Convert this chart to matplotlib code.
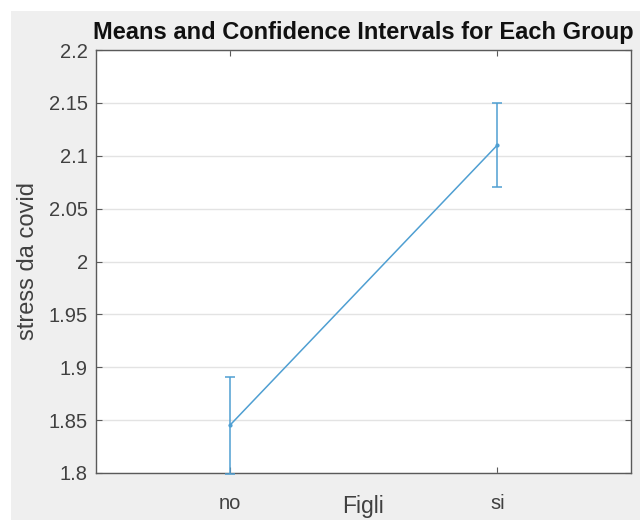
import matplotlib.pyplot as plt
from matplotlib.patches import Rectangle

# group means with lower/upper confidence limits
groups = ["no", "si"]
means = [1.845, 2.11]
ci_low = [1.799, 2.07]
ci_high = [1.891, 2.15]
yticks = [1.8, 1.85, 1.9, 1.95, 2.0, 2.05, 2.1, 2.15, 2.2]
ytick_labels = ["1.8", "1.85", "1.9", "1.95", "2", "2.05", "2.1", "2.15", "2.2"]

plt.rcParams["font.family"] = ["Liberation Sans", "DejaVu Sans"]

LINE_COLOR = "#4f9fd2"
TEXT_COLOR = "#404040"

fig = plt.figure(figsize=(6.4, 5.2), dpi=100, facecolor="white")
# gray window background with a thin white margin on top and left
fig.patches.append(Rectangle((11 / 640, 0), 1, 1 - 11 / 520, transform=fig.transFigure,
                             facecolor="#efefef", edgecolor="none", zorder=-1))

ax = fig.add_axes([96 / 640, 47 / 520, (631 - 96) / 640, (473 - 50) / 520])
ax.set_facecolor("white")

x = list(range(1, len(groups) + 1))
yerr = [[m - lo for m, lo in zip(means, ci_low)],
        [hi - m for m, hi in zip(means, ci_high)]]
ax.errorbar(x, means, yerr=yerr, color=LINE_COLOR, lw=1.1, elinewidth=1.1,
            capsize=3.5, capthick=1.1, marker=".", markersize=4, clip_on=False, zorder=3)

ax.set_xlim(0.5, 2.5)
ax.set_ylim(1.8, 2.2)
ax.set_xticks(x)
ax.set_xticklabels(groups)
ax.set_yticks(yticks)
ax.set_yticklabels(ytick_labels)

ax.grid(axis="y", color="#e3e3e3", lw=1.0)
ax.set_axisbelow(True)

for side in ax.spines.values():
    side.set_color("#5a5a5a")
    side.set_linewidth(1.0)

ax.tick_params(axis="both", direction="in", length=4, width=0.8, color="#5a5a5a",
               labelcolor=TEXT_COLOR, labelsize=14.5, top=True, right=True)
ax.tick_params(axis="x", pad=15)
ax.tick_params(axis="y", pad=6)

ax.set_title("Means and Confidence Intervals for Each Group", fontsize=17,
             fontweight="bold", color="#111111", pad=8)
ax.set_xlabel("Figli", fontsize=16.5, color=TEXT_COLOR, labelpad=-13)
ax.set_ylabel("stress da covid", fontsize=17, color=TEXT_COLOR, labelpad=7)

fig.savefig("out.png", dpi=100, facecolor=fig.get_facecolor())
